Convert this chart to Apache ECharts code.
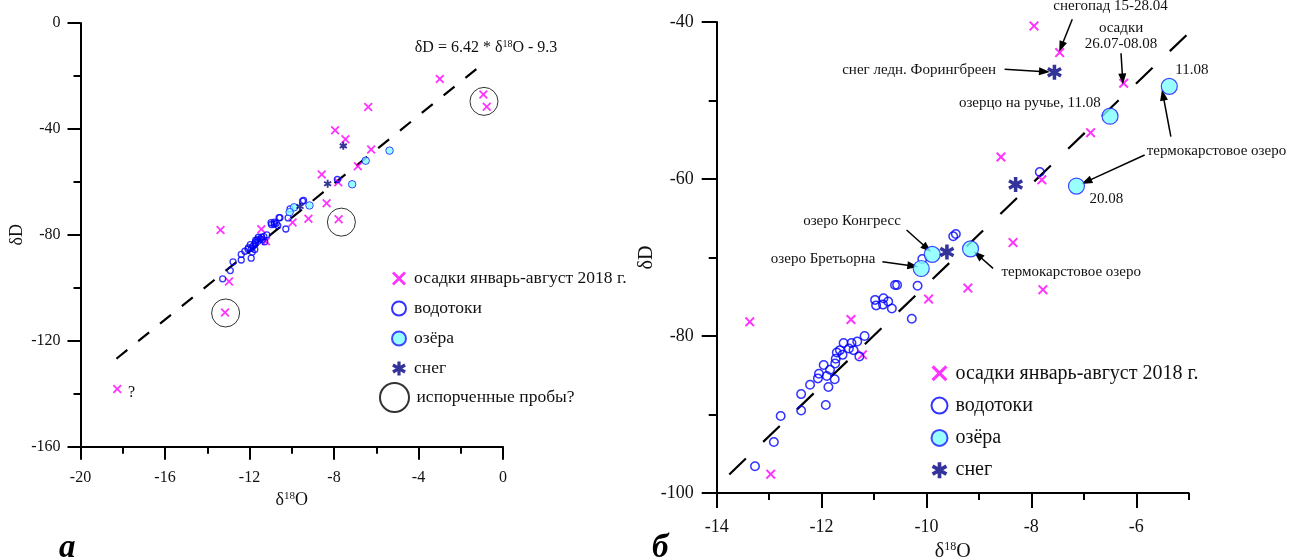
<!DOCTYPE html>
<html>
<head>
<meta charset="utf-8">
<script src="https://cdn.jsdelivr.net/npm/echarts@6/dist/echarts.min.js"></script>
<style>
  html, body { margin: 0; padding: 0; background: #fff; }
  #chart { width: 1290px; height: 558px; }
</style>
</head>
<body>
<div id="chart"></div>
<script>
// δ18O, δD (‰ VSMOW) pairs for each sample group
const precipitation = [
  [-13.37, -78.2], [-11.44, -77.9], [-11.22, -82.4], [-12.97, -97.6], [-9.96, -75.3],
  [-9.21, -73.9], [-7.78, -74.1], [-8.35, -68.1], [-8.58, -57.2], [-7.80, -60.1],
  [-6.87, -54.1], [-6.24, -47.8], [-7.46, -43.9], [-7.95, -40.5], [-2.99, -21.1],
  [-0.93, -27.0], [-0.77, -31.6], [-6.38, -31.7], [-18.26, -138.2], [-13.16, -109.3]
];
const streams = [
  [-13.27, -96.6], [-12.91, -93.5], [-12.78, -90.2], [-12.39, -87.4], [-12.39, -89.5],
  [-12.22, -86.2], [-12.07, -85.4], [-12.05, -84.8], [-11.96, -83.7], [-11.90, -85.1],
  [-11.87, -86.5], [-11.92, -88.8], [-11.84, -84.3], [-11.75, -85.5], [-11.73, -82.9],
  [-11.74, -83.5], [-11.71, -82.1], [-11.65, -81.8], [-11.60, -82.4], [-11.58, -80.9],
  [-11.48, -81.6], [-11.43, -80.9], [-11.39, -81.8], [-11.32, -80.7], [-11.28, -82.6],
  [-11.18, -80.0], [-10.98, -75.4], [-10.96, -76.1], [-10.82, -75.2], [-10.83, -76.0],
  [-10.73, -75.6], [-10.66, -76.5], [-10.60, -73.5], [-10.56, -73.5], [-10.28, -77.8],
  [-10.17, -73.6], [-10.08, -70.2], [-9.49, -67.3], [-9.44, -67.0], [-7.84, -59.1]
];
const lakes = [
  [-5.37, -48.2], [-6.50, -52.0], [-7.14, -60.9], [-9.16, -68.9], [-9.89, -69.6], [-10.10, -71.4]
];
const snow = [
  [-7.56, -46.4], [-8.30, -60.7], [-9.61, -69.3]
];
const spoiled = [
  [-0.90, -29.6], [-7.65, -75.2], [-13.13, -109.5]
];

// local meteoric water line: δD = slope * δ18O + intercept
const fitSlope = 6.42;
const fitIntercept = -9.3;
const fitSpanA = [-18.3, -1.0];
const fitSpanB = [-13.76, -5.0];

// axis ranges [min, max, step]
const xRangeA = [-20, 0, 4];
const yRangeA = [-160, 0, 40];
const xRangeB = [-14, -5, 2];
const yRangeB = [-100, -40, 20];
const xMajorB = [-14, -12, -10, -8, -6];
const xMinorB = [-13, -11, -9, -7, -5];

const NAMES = {
  precip: 'осадки январь-август 2018 г.',
  streams: 'водотоки',
  lakes: 'озёра',
  snow: 'снег',
  spoiled: 'испорченные пробы?'
};

// callouts of panel б: text anchors and arrows (δ18O, δD)
const notesB = [
  { text: 'снегопад 15-28.04', at: [-6.49, -37.97] },
  { text: 'осадки\n26.07-08.08', at: [-6.29, -41.82] },
  { text: '11.08', at: [-4.94, -46.11] },
  { text: 'снег ледн. Форингбреен', at: [-10.14, -46.11] },
  { text: 'озерцо на ручье, 11.08', at: [-8.03, -50.36] },
  { text: 'термокарстовое озеро', at: [-4.47, -56.43] },
  { text: '20.08', at: [-6.57, -62.55] },
  { text: 'термокарстовое озеро', at: [-7.24, -71.91] },
  { text: 'озеро Конгресс', at: [-11.42, -65.31] },
  { text: 'озеро Бретьорна', at: [-11.97, -70.23] }
];
const arrowsB = [
  [[-7.22, -39.66], [-7.43, -43.15]],
  [[-6.29, -43.99], [-6.26, -47.26]],
  [[-8.51, -46.03], [-7.75, -46.33]],
  [[-5.34, -54.61], [-5.49, -49.30]],
  [[-5.84, -56.94], [-6.95, -60.34]],
  [[-8.73, -71.38], [-9.02, -69.68]],
  [[-10.38, -66.50], [-9.99, -68.83]],
  [[-10.84, -70.54], [-10.26, -71.08]]
];
const questionMarkA = [-17.58, -139.5];
const equationAtA = [-0.80, -9.4];

const FONT = 'Liberation Serif';
const INK = '#111';
const CROSS = 'path://M-1,-0.72L-0.72,-1L0,-0.28L0.72,-1L1,-0.72L0.28,0L1,0.72L0.72,1L0,0.28L-0.72,1L-1,0.72L-0.28,0Z';
const STAR = 'path://M-0.23,-1L0.23,-1L0.23,1L-0.23,1Z' +
  'M0.751,-0.699L0.981,-0.301L-0.751,0.699L-0.981,0.301Z' +
  'M-0.981,-0.301L-0.751,-0.699L0.981,0.301L0.751,0.699Z';

const supRich = (size) => ({
  a: { fontFamily: FONT, fontSize: size, lineHeight: size + 2, color: INK },
  s: { fontFamily: FONT, fontSize: Math.round(size * 0.62), lineHeight: Math.round(size * 0.62) + 1, verticalAlign: 'top', color: INK }
});

function fitLine(span) {
  return span.map(x => [x, fitSlope * x + fitIntercept]);
}

function axisCommon(fontSize, tickLen) {
  return {
    type: 'value',
    axisLine: { show: true, onZero: false, lineStyle: { color: '#000', width: 2 } },
    axisTick: { show: true, inside: false, length: tickLen, lineStyle: { color: '#000', width: 2 } },
    minorTick: { show: true, splitNumber: 2, length: 7, lineStyle: { color: '#000', width: 2 } },
    splitLine: { show: false },
    minorSplitLine: { show: false },
    axisLabel: { fontFamily: FONT, fontSize: fontSize, color: INK },
    nameLocation: 'middle'
  };
}

function panelSeries(gi, s) {
  const base = { xAxisIndex: gi, yAxisIndex: gi, silent: true };
  return [
    Object.assign({}, base, {
      type: 'line', name: 'fit' + gi, data: fitLine(gi === 0 ? fitSpanA : fitSpanB),
      symbol: 'none', lineStyle: { color: '#000', width: 2.2, type: s.dash }, z: 2
    }),
    Object.assign({}, base, {
      type: 'scatter', name: NAMES.precip, data: precipitation, symbol: CROSS,
      symbolSize: s.cross, itemStyle: { color: '#ff00ff', borderWidth: 0 }, z: 3
    }),
    Object.assign({}, base, {
      type: 'scatter', name: NAMES.streams, data: streams, symbol: 'circle',
      symbolSize: s.stream, itemStyle: { color: 'rgba(255,255,255,0)', borderColor: '#0000ff', borderWidth: s.streamBorder }, z: 4
    }),
    Object.assign({}, base, {
      type: 'scatter', name: NAMES.lakes, data: lakes, symbol: 'circle',
      symbolSize: s.lake, itemStyle: { color: '#80ffff', borderColor: '#1a1aff', borderWidth: s.lakeBorder }, z: 5
    }),
    Object.assign({}, base, {
      type: 'scatter', name: NAMES.snow, data: snow, symbol: STAR,
      symbolSize: s.snow, itemStyle: { color: '#000080', borderWidth: 0 }, z: 6
    })
  ];
}

const series = [].concat(
  panelSeries(0, { dash: [14, 14], cross: 9, stream: 6, streamBorder: 1.3, lake: 7.5, lakeBorder: 1, snow: 8 }),
  [{
    type: 'scatter', name: NAMES.spoiled, xAxisIndex: 0, yAxisIndex: 0, silent: true,
    data: spoiled, symbol: 'circle', symbolSize: 28,
    itemStyle: { color: 'rgba(255,255,255,0)', borderColor: '#000', borderWidth: 1 }, z: 7
  }, {
    type: 'scatter', id: 'notesA', name: 'notesA', xAxisIndex: 0, yAxisIndex: 0, silent: true, clip: false, data: [],
    markPoint: {
      silent: true, symbol: 'circle', symbolSize: 0,
      label: { show: true, position: 'inside', formatter: p => p.name, fontFamily: FONT, fontSize: 16, color: INK, rich: supRich(16) },
      data: []
    }
  }],
  panelSeries(1, { dash: [23, 24], cross: 10, stream: 8.5, streamBorder: 1.5, lake: 16, lakeBorder: 1.2, snow: 15 }),
  [{
    type: 'scatter', id: 'notesB', name: 'notesB', xAxisIndex: 1, yAxisIndex: 1, silent: true, clip: false, data: [],
    markPoint: {
      silent: true, symbol: 'circle', symbolSize: 0,
      label: { show: true, position: 'inside', formatter: p => p.name, fontFamily: FONT, fontSize: 15, lineHeight: 16, color: INK },
      data: []
    },
    markLine: {
      silent: true, symbol: ['none', 'triangle'], symbolSize: [8, 11],
      lineStyle: { color: '#000', width: 1.5, type: 'solid' },
      label: { show: false },
      data: []
    }
  }]
);

const legendText = (size) => ({ fontFamily: FONT, fontSize: size, color: INK });
const mainItems = [NAMES.precip, NAMES.streams, NAMES.lakes, NAMES.snow].map(n => ({ name: n }));

const option = {
  animation: false,
  backgroundColor: '#fff',
  textStyle: { fontFamily: FONT },
  grid: [
    { left: 80.5, top: 23, width: 422.5, height: 423.7, outerBoundsMode: 'none', containLabel: false },
    { left: 716.7, top: 22, width: 472, height: 471, outerBoundsMode: 'none', containLabel: false }
  ],
  xAxis: [
    Object.assign(axisCommon(16, 13), {
      gridIndex: 0, min: xRangeA[0], max: xRangeA[1], interval: xRangeA[2],
      axisLabel: { fontFamily: FONT, fontSize: 16, color: INK, margin: 23 },
      name: '{a|δ}{s|18}{a|O}', nameGap: 42, nameTextStyle: { rich: supRich(18) }
    }),
    Object.assign(axisCommon(18, 15), {
      gridIndex: 1, position: 'bottom', min: xRangeB[0], max: xRangeB[1], interval: 1,
      axisTick: { show: true, length: 15, customValues: xMajorB, lineStyle: { color: '#000', width: 2 } },
      minorTick: { show: false },
      axisLabel: { fontFamily: FONT, fontSize: 18, color: INK, margin: 25, customValues: xMajorB },
      name: '{a|δ}{s|18}{a|O}', nameGap: 44, nameTextStyle: { rich: supRich(20) }
    }),
    // minor ticks of panel б (odd δ18O values, including the axis end)
    Object.assign(axisCommon(18, 7), {
      gridIndex: 1, position: 'bottom', min: xRangeB[0], max: xRangeB[1], interval: 1,
      axisLine: { show: false, onZero: false },
      axisTick: { show: true, length: 7, customValues: xMinorB, lineStyle: { color: '#000', width: 2 } },
      minorTick: { show: false },
      axisLabel: { show: false }
    })
  ],
  yAxis: [
    Object.assign(axisCommon(16, 13), {
      gridIndex: 0, min: yRangeA[0], max: yRangeA[1], interval: yRangeA[2],
      axisLabel: { fontFamily: FONT, fontSize: 16, color: INK, margin: 20 },
      name: 'δD', nameGap: 54, nameTextStyle: { fontFamily: FONT, fontSize: 18, color: INK }
    }),
    Object.assign(axisCommon(18, 15), {
      gridIndex: 1, min: yRangeB[0], max: yRangeB[1], interval: yRangeB[2],
      minorTick: { show: true, splitNumber: 2, length: 8, lineStyle: { color: '#000', width: 2 } },
      axisLabel: { fontFamily: FONT, fontSize: 18, color: INK, margin: 23 },
      name: 'δD', nameGap: 60, nameTextStyle: { fontFamily: FONT, fontSize: 20, color: INK }
    })
  ],
  legend: [
    {
      orient: 'vertical', left: 386, top: 264.5, itemWidth: 20, itemHeight: 14, itemGap: 12,
      selectedMode: false, textStyle: legendText(17.5), data: mainItems
    },
    {
      orient: 'vertical', left: 374, top: 377, itemWidth: 34, itemHeight: 29,
      selectedMode: false, textStyle: legendText(17.5), data: [{ name: NAMES.spoiled }]
    },
    {
      orient: 'vertical', left: 925.5, top: 358.3, itemWidth: 22, itemHeight: 16, itemGap: 12.3,
      selectedMode: false, textStyle: legendText(20), data: mainItems
    }
  ],
  graphic: [
    { type: 'text', left: 59, top: 532, style: { text: 'а', font: 'italic bold 33px "Liberation Serif"', fill: '#000' } },
    { type: 'text', left: 652, top: 532, style: { text: 'б', font: 'italic bold 33px "Liberation Serif"', fill: '#000' } }
  ],
  series: series
};

const chart = echarts.init(document.getElementById('chart'), null, { renderer: 'canvas' });
chart.setOption(option);

// callouts may sit beyond the plot frame, so place them through the axes' pixel mapping
const pxA = c => chart.convertToPixel({ gridIndex: 0 }, c);
const pxB = c => chart.convertToPixel({ gridIndex: 1 }, c);
const at = (p) => ({ x: p[0], y: p[1] });
chart.setOption({
  series: [
    {
      id: 'notesA',
      markPoint: {
        data: [
          Object.assign({ name: '?' }, at(pxA(questionMarkA))),
          Object.assign({ name: '{a|δD = ' + fitSlope.toFixed(2) + ' * δ}{s|18}{a|O - ' + Math.abs(fitIntercept) + '}' }, at(pxA(equationAtA)))
        ]
      }
    },
    {
      id: 'notesB',
      markPoint: { data: notesB.map(n => Object.assign({ name: n.text }, at(pxB(n.at)))) },
      markLine: { data: arrowsB.map(a => [at(pxB(a[0])), at(pxB(a[1]))]) }
    }
  ]
});
</script>
</body>
</html>
